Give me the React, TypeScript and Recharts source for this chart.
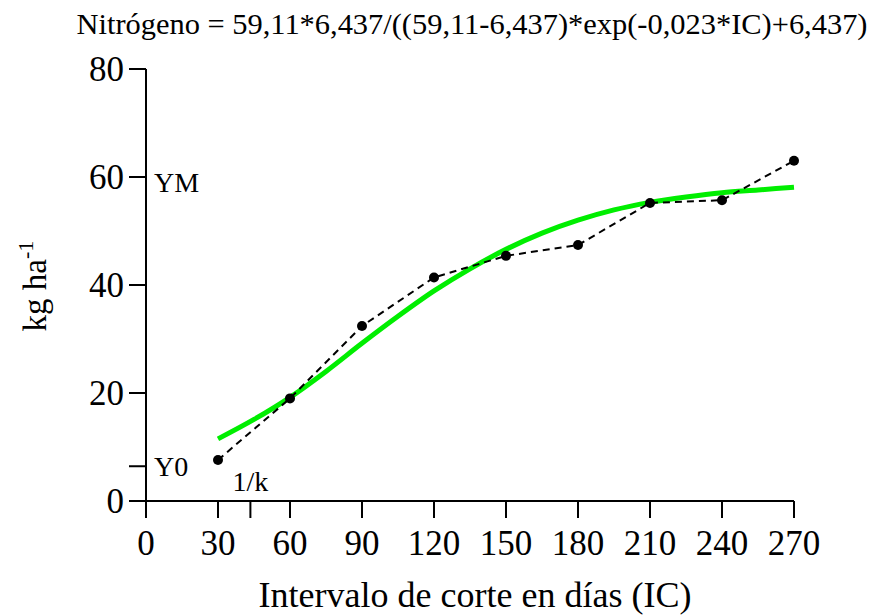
import React from 'react';
import { LineChart, Line, XAxis, YAxis, ReferenceDot } from 'recharts';

// observed values (dots + dashed line)
const obsIC = [30, 60, 90, 120, 150, 180, 210, 240, 270];
const obsN = [7.6, 19.0, 32.4, 41.4, 45.4, 47.4, 55.2, 55.7, 63.0];

// fitted logistic curve
const fitIC = [30, 45, 60, 75, 90, 105, 120, 135, 150, 165, 180, 195, 210, 225, 240, 255, 270];
const fitN = [11.5, 15.1, 19.2, 24.0, 29.2, 34.2, 38.9, 43.0, 46.6, 49.6, 52.0, 53.9, 55.3, 56.3, 57.1, 57.6, 58.1];

const xTicks = [0, 30, 43.5, 60, 90, 120, 150, 180, 210, 240, 270];
const yTicks = [0, 6.437, 20, 40, 60, 80];
const Y0 = 6.437;
const YM = 59.11;
const INV_K = 43.5;

const title = 'Nitrógeno = 59,11*6,437/((59,11-6,437)*exp(-0,023*IC)+6,437)';
const FONT = '"Liberation Serif", "Times New Roman", serif';

const obsData = obsIC.map((x, i) => ({ x, y: obsN[i] }));
const fitData = fitIC.map((x, i) => ({ x, y: fitN[i] }));

export default function App() {
    const tickStyle = { fill: '#000', fontSize: 35, fontFamily: FONT };

    return (
        <div style={{ position: 'absolute', left: 0, top: 0, background: '#fff' }}>
            <LineChart width={874} height={616} margin={{ top: 69, right: 80, bottom: 55, left: 86 }}>
                <XAxis
                    type="number"
                    dataKey="x"
                    domain={[0, 270]}
                    ticks={xTicks}
                    interval={0}
                    tickFormatter={(v: number) => (v === INV_K ? '' : String(v))}
                    tick={tickStyle}
                    tickSize={17}
                    tickMargin={12}
                    height={60}
                    stroke="#000"
                    strokeWidth={2}
                    label={{
                        content: ({ viewBox }: any) => (
                            <text x={viewBox.x + viewBox.width / 2 + 5} y={607} textAnchor="middle" fontSize={36} fontFamily={FONT} fill="#000">
                                Intervalo de corte en días (IC)
                            </text>
                        ),
                    }}
                />
                <YAxis
                    type="number"
                    dataKey="y"
                    domain={[0, 80]}
                    ticks={yTicks}
                    interval={0}
                    tickFormatter={(v: number) => (v === Y0 ? '' : String(v))}
                    tick={tickStyle}
                    tickSize={17}
                    tickMargin={5}
                    width={60}
                    stroke="#000"
                    strokeWidth={2}
                    label={{
                        content: () => (
                            <text x={46} y={286} transform="rotate(-90, 46, 286)" textAnchor="middle" fontSize={33} fontFamily={FONT} fill="#000">
                                kg ha<tspan dy={-13} fontSize={22}>-1</tspan>
                            </text>
                        ),
                    }}
                />
                <Line
                    data={fitData}
                    dataKey="y"
                    type="monotone"
                    stroke="#00ee00"
                    strokeWidth={5}
                    dot={false}
                    activeDot={false}
                    isAnimationActive={false}
                />
                <Line
                    data={obsData}
                    dataKey="y"
                    type="linear"
                    stroke="#000"
                    strokeWidth={2}
                    strokeDasharray="7 5"
                    dot={{ r: 5, fill: '#000', stroke: '#000', strokeWidth: 0, strokeDasharray: '' }}
                    activeDot={false}
                    isAnimationActive={false}
                />
                <ReferenceDot x={0} y={Y0} r={0} stroke="none" label={{ value: 'Y0', position: 'right', offset: 8, fontSize: 28, fontFamily: FONT, fill: '#000' }} />
                <ReferenceDot x={0} y={YM} r={0} stroke="none" label={{ value: 'YM', position: 'right', offset: 8, fontSize: 28, fontFamily: FONT, fill: '#000' }} />
                <ReferenceDot x={INV_K} y={3.7} r={0} stroke="none" label={{ value: '1/k', position: 'center', fontSize: 28, fontFamily: FONT, fill: '#000' }} />
                <text x={472} y={34} textAnchor="middle" fontSize={30} fontFamily={FONT} fill="#000" textLength={791} lengthAdjust="spacingAndGlyphs">
                    {title}
                </text>
            </LineChart>
        </div>
    );
}
